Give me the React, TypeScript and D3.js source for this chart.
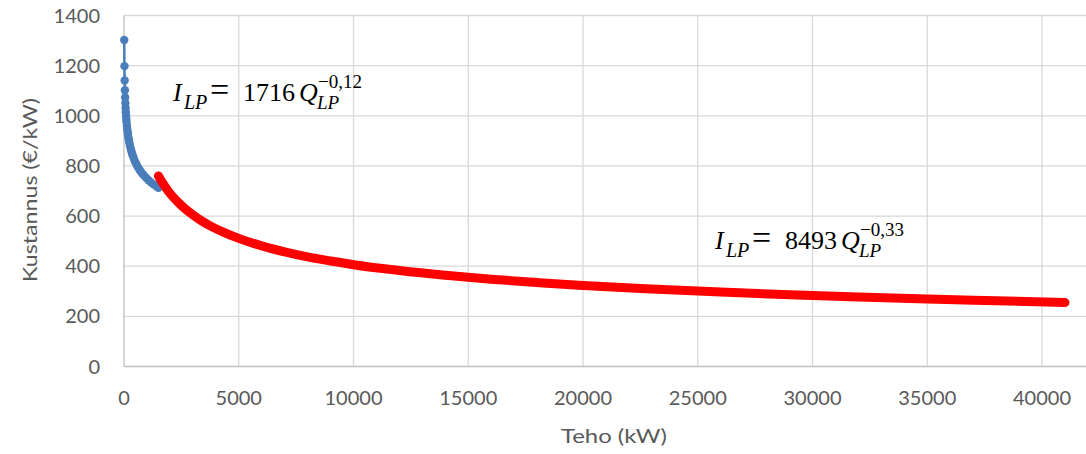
import React, { useEffect, useRef } from 'react'
import * as d3 from 'd3'

// blue series: small units (Q < 1500 kW)
const smallQ = [10, 20, 30, 40, 50, 60, 70, 80, 90, 100, 110, 125, 140, 155, 170, 190, 210, 230, 255, 280, 310, 340, 375, 410, 450, 500, 550, 600, 660, 730, 800, 880, 970, 1070, 1180, 1300, 1420, 1500]
const smallCost = [1302, 1198, 1141, 1102, 1073, 1050, 1031, 1014, 1000, 987, 976, 961, 948, 937, 927, 914, 903, 894, 883, 873, 862, 853, 843, 834, 824, 814, 805, 796, 787, 778, 769, 761, 752, 743, 734, 726, 718, 713]

// red series: large units
const largeQ = [1500, 1650, 1800, 2000, 2200, 2400, 2700, 3000, 3400, 3800, 4300, 5000, 6000, 7000, 8000, 9000, 10000, 12000, 14000, 16000, 18000, 20000, 23000, 26000, 29000, 32000, 35000, 38000, 41000]
const largeCost = [760, 737, 716, 691, 670, 651, 626, 605, 580, 559, 537, 511, 481, 457, 437, 421, 406, 383, 364, 348, 335, 323, 309, 297, 286, 277, 269, 262, 255]

const xTicks = [0, 5000, 10000, 15000, 20000, 25000, 30000, 35000, 40000]
const yTicks = [0, 200, 400, 600, 800, 1000, 1200, 1400]

const W = 1086
const H = 454

function App() {
  const ref = useRef<SVGSVGElement>(null)

  useEffect(() => {
    document.body.style.margin = '0'
    const svg = d3.select(ref.current)
    svg.selectAll('*').remove()

    const x = d3.scaleLinear().domain([0, 45000]).range([124, 1156.75])
    const y = d3.scaleLinear().domain([0, 1400]).range([366.5, 15.5])

    const font = 'Lato, "Open Sans", sans-serif'
    const grey = '#595959'

    // grid
    svg.append('g')
      .selectAll('line')
      .data(yTicks.slice(1))
      .enter()
      .append('line')
      .attr('x1', 124).attr('x2', W)
      .attr('y1', d => y(d)).attr('y2', d => y(d))
      .attr('stroke', '#d9d9d9').attr('stroke-width', 1.3)

    svg.append('g')
      .selectAll('line')
      .data(xTicks.slice(1))
      .enter()
      .append('line')
      .attr('x1', d => x(d)).attr('x2', d => x(d))
      .attr('y1', 15.5).attr('y2', 366.5)
      .attr('stroke', '#d9d9d9').attr('stroke-width', 1.3)

    // axes lines
    svg.append('line').attr('x1', 124).attr('x2', 124).attr('y1', 15.5).attr('y2', 366.5)
      .attr('stroke', '#bfbfbf').attr('stroke-width', 1.3)
    svg.append('line').attr('x1', 124).attr('x2', W).attr('y1', 366.5).attr('y2', 366.5)
      .attr('stroke', '#bfbfbf').attr('stroke-width', 1.3)

    // tick labels
    svg.append('g')
      .selectAll('text')
      .data(yTicks)
      .enter()
      .append('text')
      .attr('x', 100)
      .attr('y', d => y(d) + 7)
      .attr('text-anchor', 'end')
      .attr('font-family', font).attr('font-size', 20).attr('fill', grey)
      .text(d => d)

    svg.append('g')
      .selectAll('text')
      .data(xTicks)
      .enter()
      .append('text')
      .attr('x', d => x(d))
      .attr('y', 405)
      .attr('text-anchor', 'middle')
      .attr('font-family', font).attr('font-size', 20).attr('fill', grey)
      .text(d => d)

    // axis titles
    svg.append('text')
      .attr('x', 614).attr('y', 443)
      .attr('text-anchor', 'middle')
      .attr('font-family', font).attr('font-size', 20).attr('fill', grey)
      .attr('textLength', 106).attr('lengthAdjust', 'spacingAndGlyphs')
      .text('Teho (kW)')

    svg.append('text')
      .attr('transform', 'translate(37,190) rotate(-90)')
      .attr('text-anchor', 'middle')
      .attr('font-family', font).attr('font-size', 20).attr('fill', grey)
      .attr('textLength', 184).attr('lengthAdjust', 'spacingAndGlyphs')
      .text('Kustannus (€/kW)')

    // series
    const smallPts: [number, number][] = smallQ.map((q, i) => [x(q), y(smallCost[i])])
    const largePts: [number, number][] = largeQ.map((q, i) => [x(q), y(largeCost[i])])

    svg.append('path')
      .attr('d', d3.line().curve(d3.curveLinear)(smallPts))
      .attr('fill', 'none')
      .attr('stroke', '#4a7ebb').attr('stroke-width', 2.5)

    svg.append('g')
      .selectAll('circle')
      .data(smallPts)
      .enter()
      .append('circle')
      .attr('cx', d => d[0]).attr('cy', d => d[1])
      .attr('r', 4.2)
      .attr('fill', '#4a7ebb')

    svg.append('path')
      .attr('d', d3.line().curve(d3.curveMonotoneX)(largePts))
      .attr('fill', 'none')
      .attr('stroke', '#ff0000').attr('stroke-width', 9)
      .attr('stroke-linecap', 'round').attr('stroke-linejoin', 'round')

    // equations: one text, pieces as tspans with their own x
    const serif = '"Liberation Serif", "DejaVu Serif", serif'
    const eq = (ex: number, ey: number, coef: string, exp: string) => {
      const t = svg.append('text').attr('y', ey)
        .attr('font-family', serif).attr('fill', '#000').attr('font-size', 26)
      t.append('tspan').attr('x', ex).attr('font-style', 'italic').text('I')
      t.append('tspan').attr('x', ex + 11).attr('dy', 8).attr('font-size', 20).attr('font-style', 'italic').text('LP')
      t.append('tspan').attr('x', ex + 37).attr('dy', -8).attr('font-size', 34).text('=')
      t.append('tspan').attr('x', ex + 70).attr('font-size', 26).text(coef)
      t.append('tspan').attr('x', ex + 126).attr('font-style', 'italic').attr('font-size', 26).text('Q')
      t.append('tspan').attr('x', ex + 144).attr('dy', 8).attr('font-size', 19).attr('font-style', 'italic').text('LP')
      t.append('tspan').attr('x', ex + 145).attr('dy', -21).attr('font-size', 19).text('−' + exp)
    }
    eq(173, 101, '1716', '0,12')
    eq(715, 249, '8493', '0,33')
  }, [])

  return <svg ref={ref} width={W} height={H} style={{ display: 'block', background: '#fff' }} />
}

export default App
